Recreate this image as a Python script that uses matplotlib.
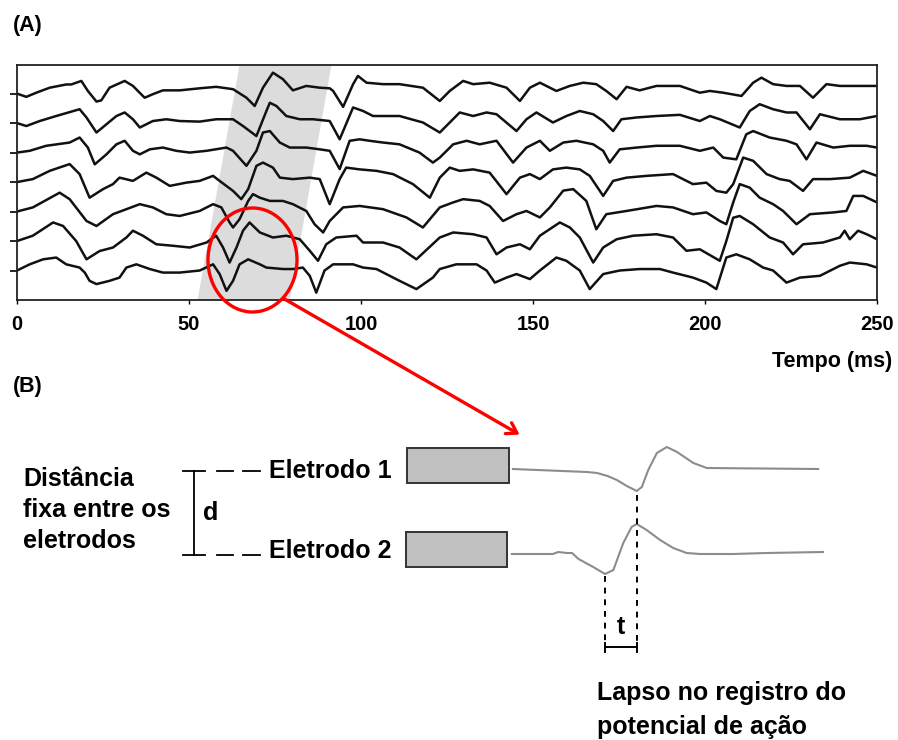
import numpy as np
import matplotlib
matplotlib.use('Agg')
import matplotlib.pyplot as plt
from matplotlib.patches import Ellipse, Rectangle

plt.rcParams['font.family'] = ['Liberation Sans', 'DejaVu Sans']
plt.rcParams['font.weight'] = 'bold'

# --- (A) seven stacked recordings, time in ms, amplitude in units of trace spacing
t1 = [0, 2.7, 5.6, 9.5, 14.3, 15.8, 18.7, 20.6, 23.1, 24.5, 26.9, 31.3, 33.7, 37.1, 39.5, 42.4, 47.3, 53.1, 57.9, 62.8,
      66.7, 69.1, 71.5, 74.4, 77.3, 80.2, 84.1, 88, 90.9, 91.9, 94.8, 97.7, 99.1, 101.6, 106.4, 111.2, 118,
      122.9, 125.8, 129.7, 132.6, 137.4, 142.3, 146.2, 149.1, 152, 156.8, 160.7, 164.6, 168.4, 171.3, 174.3, 177.2,
      181, 185.9, 192.7, 198.5, 201.4, 205.3, 210.6, 214, 216.4, 219.8, 223.7, 227.6, 231.4, 235.3, 239.2, 245, 250]
a1 = [0, -0.11, 0.03, 0.2, 0.31, 0.31, 0.43, 0.09, -0.27, -0.23, 0.2, 0.43, 0.26, -0.14, -0.02, 0.11, 0.11, 0.18, 0.23, 0.15,
      -0.14, -0.42, 0.2, 0.71, 0.49, 0.11, 0.26, 0.2, 0.18, 0.09, -0.45, 0.32, 0.6, 0.37, 0.32, 0.32, 0.2,
      -0.25, 0.09, 0.43, 0.32, 0.37, 0.2, -0.25, 0.2, 0.37, 0.09, 0.26, 0.37, 0.32, 0.09, -0.19, 0.23,
      0.11, 0.26, 0.26, 0.03, 0.09, 0.03, -0.08, 0.37, 0.54, 0.32, 0.26, 0.26, -0.14, 0.32, 0.26, 0.26, 0.26]

t2 = [0, 2.7, 6.6, 11.4, 18.2, 20.2, 23.1, 26, 28.9, 31.3, 33.7, 35.7, 39.5, 43.4, 47.3, 53.1, 57.9, 62.8, 65.7, 69.6,
      72.5, 73.5, 75.4, 78.3, 82.2, 86.1, 90.9, 93.8, 97.7, 100.6, 103.5, 111.2, 118,
      122.9, 125.8, 128.7, 132.6, 136.5, 139.4, 145.2, 148.1, 151, 155.8, 159.7, 163.6, 167.5, 170.4, 173.3, 175.7,
      180.1, 185.9, 192.7, 198.5, 201.4, 204.3, 210.1, 213, 215.9, 219.8, 223.7, 226.6, 230.5, 233.4, 239.2, 245, 250]
a2 = [0, -0.1, 0.07, 0.24, 0.47, 0.19, -0.32, -0.04, 0.24, 0.36, 0.13, -0.15, 0.07, 0.13, 0.07, 0.05, 0.13, 0.13, -0.1, -0.44,
      0.41, 0.69, 0.58, 0.24, 0.13, 0.13, 0.07, -0.55, 0.53, 0.41, 0.24, 0.24, 0.02,
      -0.32, 0.02, 0.36, 0.24, 0.36, 0.3, -0.27, 0.13, 0.36, 0.02, 0.24, 0.41, 0.3, 0.07, -0.27, 0.13,
      0.19, 0.24, 0.28, 0.07, 0.24, 0.13, -0.15, 0.41, 0.64, 0.47, 0.36, 0.36, -0.21, 0.3, 0.13, 0.13, 0.24]

t3 = [0, 3.7, 8.5, 15.3, 18.2, 20.6, 22.6, 26, 28.9, 31.3, 33.7, 35.7, 38.6, 42.4, 46.3, 50.2, 55.1, 60.9, 62.8, 66.7,
      69.6, 71.5, 73.5, 76.4, 79.3, 84.1, 88, 90.9, 93.8, 96.7, 99.6, 102.5, 106.4, 111.2, 117, 120.9,
      122.9, 126.8, 130.7, 134.5, 139.4, 144.2, 148.1, 152, 154.9, 158.8, 162.6, 167.5, 170.4, 172.3, 175.2, 180.1,
      185.9, 192.7, 198.5, 202.4, 205.3, 209.1, 212, 214, 218.8, 223.7, 226.6, 229.5, 232.4, 237.3, 242.1, 247, 250]
a3 = [0, 0.06, 0.23, 0.34, 0.51, 0.17, -0.4, -0.06, 0.28, 0.4, 0.06, -0.06, 0.11, 0.17, 0.06, 0, 0.06, 0.17, 0.06, -0.45,
      0.06, 0.68, 0.73, 0.34, 0.17, 0.17, 0.11, 0.06, -0.56, 0.4, 0.45, 0.4, 0.34, 0.28, 0, -0.34,
      -0.17, 0.28, 0.4, 0.28, 0.4, -0.34, 0.17, 0.4, 0.06, 0.34, 0.4, 0.28, 0.06, -0.34, 0.11, 0.17,
      0.23, 0.23, 0.06, 0.17, -0.17, -0.23, 0.62, 0.73, 0.51, 0.4, 0.28, -0.23, 0.34, 0.17, 0.23, 0.23, 0.17]

t4 = [0, 4.6, 9.5, 15.3, 18.2, 21.1, 25, 27.9, 29.8, 33.7, 37.6, 40.5, 44.4, 49.2, 53.1, 57, 58.9, 62.8, 65.2, 67.2,
      69.6, 71.5, 74.4, 76.4, 80.2, 85.1, 88, 90.9, 93.8, 95.7, 99.6, 104.5, 109.3, 115.1, 120,
      122.9, 125.8, 128.7, 132.6, 137.4, 142.3, 146.2, 149.1, 152, 155.8, 159.7, 163.6, 166.5, 170.4, 173.3, 177.2,
      183, 190.7, 196.5, 200.4, 203.3, 206.2, 208.2, 211.1, 214, 217.9, 221.7, 224.6, 228.5, 231.4, 236.3, 242.1, 246, 250]
a4 = [0, 0.1, 0.38, 0.61, 0.27, -0.53, -0.24, -0.07, 0.15, 0.04, 0.32, 0.15, -0.13, -0.02, 0.04, 0.21, 0.04, -0.3, -0.58, -0.24,
      0.55, 0.66, 0.49, 0.15, 0.1, 0.15, 0.1, -0.75, 0.1, 0.49, 0.43, 0.38, 0.27, -0.07, -0.53,
      0.15, 0.49, 0.38, 0.43, 0.32, -0.41, 0.15, 0.27, 0.1, 0.43, 0.49, 0.43, 0.21, -0.47, 0.04, 0.15,
      0.21, 0.27, -0.07, -0.02, -0.3, -0.36, -0.07, 0.83, 0.72, 0.27, 0.1, 0.04, -0.3, 0.1, 0.1, 0.15, 0.38, 0.21]

t5 = [0, 4.6, 12.4, 15.3, 20.2, 23.1, 27.9, 31.8, 35.7, 39.5, 43.4, 47.3, 53.1, 57, 59.4, 61.8, 62.8, 64.7, 67.2, 68.6,
      70.6, 73.5, 77.3, 80.2, 84.1, 86.5, 89, 90.9, 94.8, 99.6, 106.4, 113.2, 118,
      122.9, 126.8, 129.7, 134.5, 137.4, 141.3, 145.2, 148.1, 152, 154.9, 158.8, 161.7, 165.5, 168.4, 171.3, 177.2,
      185.9, 190.7, 196.5, 200.4, 204.3, 206.2, 208.2, 210.1, 213, 215.9, 219.8, 222.7, 226.6, 230.5, 237.3, 241.1,
      243.1, 246, 250]
a5 = [0, 0.14, 0.64, 0.42, -0.32, -0.49, -0.09, 0.08, 0.25, 0.14, -0.09, -0.15, 0.02, 0.25, 0.14, -0.37, -0.54, -0.26, 0.36, 0.59,
      0.47, 0.36, 0.36, 0.25, 0.02, -0.43, -0.71, -0.32, 0.14, 0.19, 0.08, -0.2, -0.54,
      0.14, 0.31, 0.42, 0.36, 0.19, -0.32, -0.09, 0.02, -0.2, 0.14, 0.71, 0.76, 0.36, -0.6, -0.09, 0.02,
      0.19, 0.14, -0.09, -0.03, -0.32, -0.43, 0.31, 0.93, 0.81, 0.47, 0.25, 0.02, -0.43, -0.09, -0.03, 0.02,
      0.53, 0.53, 0.31]

t6 = [0, 4.6, 10.5, 13.4, 17.2, 20.2, 24, 27.9, 31.8, 33.7, 36.6, 40.5, 45.3, 50.2, 55.1, 57.9, 59.9, 61.8, 63.8, 65.7,
      67.6, 70.6, 74.4, 78.3, 82.2, 85.1, 87.5, 89.9, 92.8, 98.7, 100.6, 106.4, 111.2, 116.1,
      122.9, 126.8, 132.6, 136.5, 139.4, 142.3, 146.2, 149.1, 152, 157.8, 160.7, 163.6, 167.5, 170.4, 174.3, 179.1,
      185.9, 190.7, 194.6, 198.5, 204.3, 206.2, 208.2, 210.1, 214, 218.8, 222.7, 225.6, 228.5, 234.3, 239.2, 240.6,
      242.1, 244.5, 247, 250]
a6 = [0, 0.18, 0.63, 0.51, 0, -0.62, -0.34, -0.22, 0.12, 0.35, 0.18, -0.11, -0.16, -0.22, -0.05, 0.18, -0.22, -0.73, -0.22, 0.35,
      0.63, 0.29, 0.12, 0.18, 0.06, -0.33, -0.67, -0.11, 0.12, 0.18, -0.05, -0.05, -0.22, -0.62,
      0.12, 0.29, 0.23, 0.12, -0.45, -0.22, -0.11, -0.28, 0.18, 0.63, 0.46, 0.12, -0.73, -0.22, 0.06, 0.18,
      0.23, 0.12, -0.33, -0.28, -0.67, 0, 0.79, 0.85, 0.57, 0.12, -0.05, -0.45, -0.11, -0.05, 0.12, 0.35,
      0.06, 0.35, 0.23, 0.06]

t7 = [0, 3.7, 7.6, 11.4, 14.3, 18.2, 19.7, 21.1, 23.1, 26.9, 29.8, 31.8, 34.7, 38.6, 42.4, 47.3, 53.1, 57, 58.9, 60.9,
      62.8, 64.7, 67.2, 70.6, 72.5, 77.3, 80.2, 83.1, 85.1, 87, 89.4, 91.9, 97.7, 100.6, 104.5, 111.2, 116.1, 120.9,
      122.9, 127.7, 133.6, 136.5, 138.9, 142.3, 145.2, 149.1, 152, 156.8, 159.7, 163.6, 166.5, 170.4, 175.2, 181,
      186.9, 190.7, 196.5, 200.4, 203.3, 206.2, 209.1, 213, 216.9, 219.8, 223.7, 227.6, 233.4, 239.2, 242.1, 247, 250]
a7 = [0, 0.21, 0.38, 0.44, 0.21, 0.1, -0.07, -0.35, -0.46, -0.35, -0.24, 0.1, 0.21, 0.05, -0.07, -0.07, 0, 0.21, -0.12, -0.69,
      -0.35, 0.21, 0.38, 0.21, 0.1, 0.05, 0.05, 0.1, -0.18, -0.75, 0, 0.21, 0.21, 0.1, 0.05, -0.35, -0.63, -0.24,
      0.05, 0.21, 0.21, 0, -0.41, -0.24, -0.12, -0.29, 0, 0.44, 0.33, 0, -0.63, -0.12, 0, 0.05,
      0.05, -0.07, -0.24, -0.41, -0.63, 0.44, 0.55, 0.38, 0.1, 0, -0.41, -0.24, -0.18, 0.16, 0.27, 0.21, 0.1]

x_ticks = [0, 50, 100, 150, 200, 250]
# shaded propagation band (ms at bottom / top of the panel)
band_bottom = [52.5, 79.3]
band_top = [64.7, 91.4]

# --- (B) schematic recordings at the two electrodes
e1_t = [0.9, 24, 27.2, 30.5, 33.4, 36.5, 39.6, 41.2, 43.2, 45.9, 49, 52.2, 57.3, 61.5, 96.3]
e1_a = [0, -0.3, -0.4, -0.7, -1.1, -1.7, -2.2, -1.8, -0.1, 1.6, 2.2, 1.7, 0.6, 0.1, 0]
e2_t = [0.6, 13.4, 15.1, 17.7, 19.4, 21.4, 26, 29.7, 32.3, 35.4, 38, 39.6, 42.7, 46.9, 51, 55.2, 59.4, 69.8, 80.2, 97.8]
e2_a = [0, 0, 0.2, 0.1, 0.1, -0.5, -1.3, -2, -1.6, 1.1, 2.7, 3, 2.4, 1.4, 0.6, 0.1, 0, 0, 0.1, 0.2]

W, H = 898, 740
fig = plt.figure(figsize=(W / 100, H / 100), dpi=100)

def px_rect(x0, y0, x1, y1):
    return [x0 / W, 1 - y1 / H, (x1 - x0) / W, (y1 - y0) / H]

# panel A
ax = fig.add_axes(px_rect(17, 65, 877, 300))
ymax = 7.97
ax.fill([band_bottom[0], band_top[0], band_top[1], band_bottom[1]], [0, ymax, ymax, 0],
        color='#dcdcdc', lw=0, zorder=0)
traces = [(t1, a1), (t2, a2), (t3, a3), (t4, a4), (t5, a5), (t6, a6), (t7, a7)]
for i, (t, a) in enumerate(traces):
    ax.plot(t, np.array(a) + 7 - i, color='#111111', lw=1.8,
            solid_joinstyle='round', solid_capstyle='round', zorder=2)
ax.set_xlim(0, 250)
ax.set_ylim(0, ymax)
ax.set_xticks(x_ticks)
ax.set_xticklabels([str(v) for v in x_ticks], fontsize=14.5, fontweight='bold')
ax.set_yticks(range(1, 8))
ax.set_yticklabels([])
ax.tick_params(axis='x', direction='out', length=3, width=1, pad=8)
ax.tick_params(axis='y', direction='out', length=5, width=1.2)
for s in ax.spines.values():
    s.set_linewidth(1.3)
    s.set_color('#222222')

# panel B recordings
axb = fig.add_axes(px_rect(510, 440, 830, 660))
axb.set_xlim(0, 100)
axb.set_ylim(-10.6, 11.4)
axb.axis('off')
off1 = 8.5
axb.plot(e1_t, np.array(e1_a) + off1, color='#8c8c8c', lw=1.5, solid_joinstyle='round')
axb.plot(e2_t, e2_a, color='#8c8c8c', lw=1.5, solid_joinstyle='round')
i1 = int(np.argmin(e1_a))
i2 = int(np.argmin(e2_a))
t_a, t_b = e2_t[i2], e1_t[i1]
y_low = -9.4
axb.plot([t_b, t_b], [e1_a[i1] + off1 - 0.4, y_low], color='black', lw=1.4, ls=(0, (3, 3)))
axb.plot([t_a, t_a], [e2_a[i2] - 0.2, y_low], color='black', lw=1.4, ls=(0, (3, 3)))
axb.plot([t_a, t_b], [-9.3, -9.3], color='black', lw=1.4)
axb.plot([t_a, t_a], [-8.9, -9.8], color='black', lw=1.4)
axb.plot([t_b, t_b], [-8.9, -9.8], color='black', lw=1.4)
axb.text((t_a + t_b) / 2, -7.3, 't', fontsize=18, fontweight='bold', ha='center', va='center')

# overlay in pixel coordinates for annotations
ov = fig.add_axes([0, 0, 1, 1], facecolor='none')
ov.set_xlim(0, W)
ov.set_ylim(H, 0)
ov.axis('off')

ov.text(13, 31, '(A)', fontsize=15.5, fontweight='bold')
ov.text(13, 392, '(B)', fontsize=15.5, fontweight='bold')
ov.text(892, 367, 'Tempo (ms)', fontsize=15.5, fontweight='bold', ha='right')

ov.add_patch(Ellipse((252.5, 260), 89, 104, fill=False, ec='red', lw=2.4))
ov.annotate('', xy=(522, 436), xytext=(281, 297),
            arrowprops=dict(arrowstyle='->,head_length=0.7,head_width=0.45', color='red', lw=2.4))

ov.add_patch(Rectangle((407, 448), 102, 35, fc='#c0c0c0', ec='#333333', lw=1.4))
ov.add_patch(Rectangle((406, 532), 101, 35, fc='#c0c0c0', ec='#333333', lw=1.4))
ov.text(269, 478, 'Eletrodo 1', fontsize=18, fontweight='bold')
ov.text(269, 558, 'Eletrodo 2', fontsize=18, fontweight='bold')

for y in (471, 555):
    ov.plot([183, 205], [y, y], color='black', lw=1.3)
    ov.plot([217, 233], [y, y], color='black', lw=1.3)
    ov.plot([243, 260], [y, y], color='black', lw=1.3)
ov.plot([194, 194], [471, 555], color='black', lw=1.3)
ov.text(203, 520, 'd', fontsize=18, fontweight='bold')

left_lines = ['Distância', 'fixa entre os', 'eletrodos']
for k, line in enumerate(left_lines):
    ov.text(23, 486 + 31 * k, line, fontsize=18, fontweight='bold')

lapse_lines = ['Lapso no registro do', 'potencial de ação']
for k, line in enumerate(lapse_lines):
    ov.text(597, 700 + 34 * k, line, fontsize=18, fontweight='bold')

fig.savefig('out.png', dpi=100)
